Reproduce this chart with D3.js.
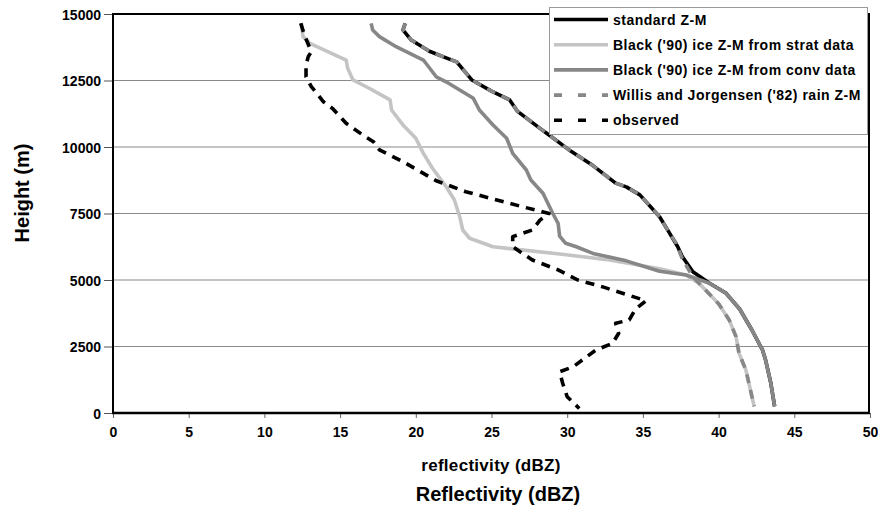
<!DOCTYPE html>
<html>
<head>
<meta charset="utf-8">
<script src="https://cdn.jsdelivr.net/npm/d3@7"></script>
<style>
  html, body { margin: 0; padding: 0; background: #fff; }
  svg { display: block; }
  text { font-family: "Liberation Sans", Arial, sans-serif; font-weight: bold; fill: #000; }
</style>
</head>
<body>
<svg id="chart" width="878" height="506"></svg>
<script>
// Reflectivity profiles: [reflectivity dBZ, height m], listed top to bottom
const standardZM = [
  [19.3,14650],[19.15,14400],[19.7,14020],[20.9,13600],[22.0,13350],[22.7,13200],
  [23.7,12520],[25.0,12100],[26.2,11770],[26.7,11350],[28.2,10700],[28.8,10450],
  [30.1,9900],[31.7,9300],[33.2,8640],[33.9,8500],[34.8,8200],[36.1,7380],
  [36.7,6820],[37.3,6250],[37.6,5880],[38.3,5310],[39.4,4880],[40.5,4500],
  [41.4,3900],[42.2,3120],[42.9,2370],[43.1,2000],[43.45,1120],[43.7,250]
];
const blackStrat = [
  [12.45,14650],[12.55,14150],[13.0,13900],[15.4,13270],[15.5,12960],[15.85,12520],
  [16.95,12200],[18.3,11770],[18.4,11390],[19.15,10830],[20.0,10330],[20.5,9760],
  [21.1,9200],[22.0,8510],[22.55,8010],[22.9,7380],[23.1,6880],[23.55,6570],
  [25.1,6250],[29.5,5980],[32.8,5750],[36.1,5420],[37.85,5190],[38.7,4880],
  [40.0,4110],[40.7,3500],[41.15,2870],[41.35,2240],[41.8,1620],[42.1,870],[42.35,250]
];
const blackConv = [
  [17.05,14650],[17.15,14400],[17.6,14150],[18.7,13770],[20.5,13270],[21.35,12640],
  [22.0,12450],[23.8,11830],[24.2,11390],[25.1,10830],[26.0,10330],[26.4,9760],
  [27.3,9135],[27.6,8760],[28.4,8260],[29.05,7500],[29.4,7130],[29.5,6650],
  [29.9,6380],[30.6,6250],[31.7,6000],[33.9,5720],[36.1,5330],[37.85,5190],
  [39.4,4880],[40.5,4500],[41.4,3900],[42.2,3120],[42.9,2370],[43.1,2000],
  [43.45,1120],[43.7,250]
];
const willisRain = [
  [19.3,14650],[19.15,14400],[19.7,14020],[20.9,13600],[22.0,13350],[22.7,13200],
  [23.7,12520],[25.0,12100],[26.2,11770],[26.7,11350],[28.2,10700],[28.8,10450],
  [30.1,9900],[31.7,9300],[33.2,8640],[33.9,8500],[34.8,8200],[36.1,7380],
  [36.7,6820],[37.2,6380],[37.6,5800],[38.3,5120],[38.7,4880],[40.0,4110],
  [40.7,3500],[41.15,2870],[41.35,2240],[41.8,1620],[42.1,870],[42.35,250]
];
const observed = [
  [12.4,14650],[12.65,14200],[13.1,13580],[12.9,13400],[12.75,13080],[12.75,12640],
  [13.1,12270],[13.9,11700],[14.5,11450],[15.4,10890],[16.5,10450],[17.2,10200],
  [17.6,9890],[19.15,9450],[21.35,8730],[23.3,8320],[27.0,7760],[28.8,7500],
  [28.2,7250],[27.7,6880],[26.4,6630],[26.4,6250],[27.7,5750],[29.4,5380],
  [30.7,5000],[32.3,4750],[35.2,4220],[34.5,3900],[34.1,3500],[33.2,3370],
  [33.4,3000],[33.0,2620],[31.9,2370],[30.4,1740],[29.5,1550],[29.7,1120],
  [30.0,610],[30.8,170]
];

const seriesNames = [
  "standard Z-M",
  "Black ('90) ice Z-M from strat data",
  "Black ('90) ice Z-M from conv data",
  "Willis and Jorgensen ('82) rain Z-M",
  "observed"
];
const xTicks = [0, 5, 10, 15, 20, 25, 30, 35, 40, 45, 50];
const yTicks = [0, 2500, 5000, 7500, 10000, 12500, 15000];
const xAxisTitle = "reflectivity (dBZ)";
const xAxisTitle2 = "Reflectivity (dBZ)";
const yAxisTitle = "Height (m)";

const styles = [
  { color: "#000000", dash: null, legendDash: null },
  { color: "#c4c4c4", dash: null, legendDash: null },
  { color: "#878787", dash: null, legendDash: null },
  { color: "#878787", dash: "9,7", legendDash: "8,16" },
  { color: "#000000", dash: "9,7", legendDash: "8,16" }
];
const seriesData = [standardZM, blackStrat, blackConv, willisRain, observed];

const svg = d3.select("#chart");
const plot = { left: 113, right: 870, top: 14, bottom: 413 };

const x = d3.scaleLinear().domain([0, 50]).range([plot.left, plot.right]);
const y = d3.scaleLinear().domain([0, 15000]).range([plot.bottom, plot.top]);

// horizontal gridlines
svg.append("g")
  .selectAll("line")
  .data(yTicks.filter(t => t > 0 && t < 15000))
  .join("line")
  .attr("x1", plot.left).attr("x2", plot.right)
  .attr("y1", d => y(d)).attr("y2", d => y(d))
  .attr("stroke", "#8a8a8a").attr("stroke-width", 1.2);

// y axis
const yAxis = svg.append("g")
  .attr("transform", `translate(${plot.left},0)`)
  .call(d3.axisLeft(y).tickValues(yTicks).tickSize(9).tickPadding(3).tickFormat(d3.format("d")));
yAxis.select(".domain").remove();
yAxis.selectAll(".tick line").attr("stroke", "#555");
yAxis.selectAll(".tick text").style("font-size", "14px").attr("dy", "0.36em");

// x axis
const xAxis = svg.append("g")
  .attr("transform", `translate(0,${plot.bottom})`)
  .call(d3.axisBottom(x).tickValues(xTicks).tickSize(5).tickPadding(9).tickFormat(d3.format("d")));
xAxis.select(".domain").remove();
xAxis.selectAll(".tick line").attr("stroke", "#666");
xAxis.selectAll(".tick text").style("font-size", "14px");

// frame: top and right borders, heavy left and bottom axes
svg.append("line").attr("x1", plot.left).attr("x2", plot.right)
  .attr("y1", plot.top).attr("y2", plot.top).attr("stroke", "#000").attr("stroke-width", 2);
svg.append("line").attr("x1", plot.right - 1).attr("x2", plot.right - 1)
  .attr("y1", plot.top).attr("y2", plot.bottom).attr("stroke", "#000").attr("stroke-width", 2);
svg.append("line").attr("x1", plot.left).attr("x2", plot.left)
  .attr("y1", plot.top - 1).attr("y2", plot.bottom + 1).attr("stroke", "#000").attr("stroke-width", 2);

// profile lines
const line = d3.line().x(d => x(d[0])).y(d => y(d[1]));
svg.append("g")
  .selectAll("path")
  .data(seriesData)
  .join("path")
  .attr("d", d => line(d))
  .attr("fill", "none")
  .attr("stroke", (d, i) => styles[i].color)
  .attr("stroke-width", 3.6)
  .attr("stroke-linejoin", "round")
  .attr("stroke-dasharray", (d, i) => styles[i].dash);

svg.append("line").attr("x1", plot.left - 1).attr("x2", plot.right)
  .attr("y1", plot.bottom).attr("y2", plot.bottom).attr("stroke", "#000").attr("stroke-width", 2.5);

// legend
const legend = svg.append("g");
legend.append("rect")
  .attr("x", 549.5).attr("y", 7.5).attr("width", 318).attr("height", 127)
  .attr("fill", "#fff").attr("stroke", "#9a9a9a").attr("stroke-width", 1);
const rows = legend.selectAll("g.row")
  .data(seriesNames)
  .join("g")
  .attr("class", "row")
  .attr("transform", (d, i) => `translate(0,${19.5 + i * 25.2})`);
rows.append("line")
  .attr("x1", 554).attr("x2", 608).attr("y1", 0).attr("y2", 0)
  .attr("stroke", (d, i) => styles[i].color)
  .attr("stroke-width", 3.6)
  .attr("stroke-dasharray", (d, i) => styles[i].legendDash);
rows.append("text")
  .attr("x", 613).attr("y", 5)
  .style("font-size", "14px")
  .style("letter-spacing", "0.5px")
  .text(d => d);

// axis titles
svg.append("text")
  .attr("transform", "translate(29,193) rotate(-90)")
  .attr("text-anchor", "middle")
  .style("font-size", "20px")
  .text(yAxisTitle);
svg.append("text")
  .attr("x", 491).attr("y", 470.5)
  .attr("text-anchor", "middle")
  .style("font-size", "17px")
  .style("letter-spacing", "0.3px")
  .text(xAxisTitle);
svg.append("text")
  .attr("x", 498).attr("y", 501)
  .attr("text-anchor", "middle")
  .style("font-size", "20px")
  .text(xAxisTitle2);
</script>
</body>
</html>
